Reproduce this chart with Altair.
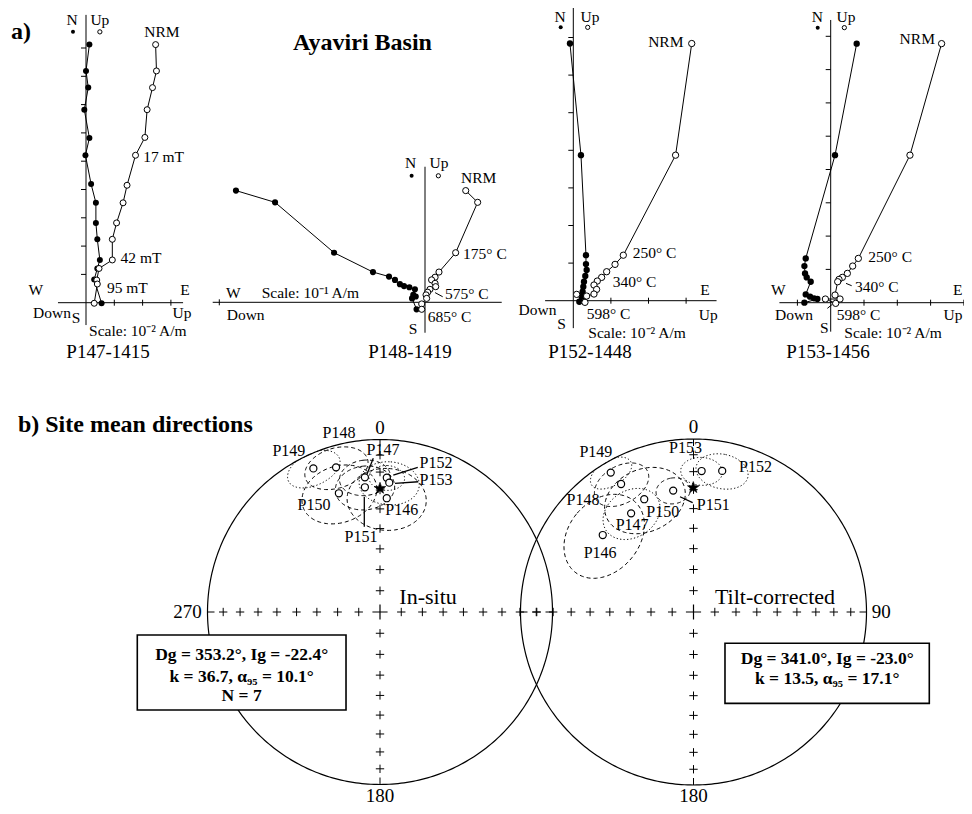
import numpy as np
import pandas as pd
import altair as alt

FONT = "Liberation Serif"
M = 8  # page margin

# ------------------------------------------------------------------
# DATA  (Zijderveld diagrams, values in tick units of each panel)
# ------------------------------------------------------------------
p147_fill_x = [0.12, 0.0, 0.08, -0.06, 0.12, -0.02, 0.18, 0.35, 0.35, 0.40, 0.49, 0.40, 0.29, 0.55]
p147_fill_y = [9.12, 8.19, 7.60, 6.82, 5.82, 5.21, 4.19, 3.53, 2.82, 2.24, 1.51, 1.21, 0.82, -0.02]
p147_open_x = [2.46, 2.49, 2.35, 2.16, 2.08, 1.75, 1.45, 1.31, 1.08, 0.93, 0.93, 0.46, 0.38, 0.40, 0.29]
p147_open_y = [9.12, 8.19, 7.60, 6.82, 5.84, 5.21, 4.15, 3.53, 2.82, 2.24, 1.51, 1.21, 0.80, 0.66, -0.02]

p148_fill_x = [-0.919, -0.729, -0.442, -0.253, -0.175, -0.146, -0.122, -0.102, -0.076, -0.049, -0.057, -0.045, -0.063, -0.041]
p148_fill_y = [0.543, 0.486, 0.241, 0.147, 0.125, 0.109, 0.088, 0.079, 0.073, 0.063, 0.036, 0.028, 0.019, -0.034]
p148_open_x = [0.198, 0.256, 0.149, 0.068, 0.049, 0.032, 0.049, 0.052, 0.024, 0.013, 0.005, 0.008, -0.016, -0.016]
p148_open_y = [0.543, 0.486, 0.241, 0.147, 0.122, 0.109, 0.092, 0.076, 0.063, 0.049, 0.036, 0.019, -0.008, -0.034]

p152_fill_x = [-0.089, 0.204, 0.337, 0.337, 0.355, 0.319, 0.284, 0.266, 0.248, 0.222, 0.160]
p152_fill_y = [6.84, 3.87, 1.21, 0.975, 0.816, 0.656, 0.505, 0.372, 0.239, 0.106, -0.027]
p152_open_x = [3.15, 2.72, 1.33, 1.11, 0.887, 0.754, 0.638, 0.55, 0.62, 0.55, 0.355, 0.089, 0.31]
p152_open_y = [6.84, 3.87, 1.21, 0.966, 0.771, 0.62, 0.523, 0.417, 0.30, 0.177, 0.124, 0.168, -0.044]

p153_fill_x = [0.78, 0.13, -0.75, -0.79, -0.77, -0.72, -0.60, -0.75, -0.62, -0.50, -0.40, -0.79]
p153_fill_y = [7.78, 4.43, 1.33, 1.10, 0.88, 0.76, 0.63, 0.25, 0.18, 0.13, 0.11, 0.0]
p153_open_x = [3.33, 2.38, 0.83, 0.66, 0.50, 0.35, 0.25, 0.21, 0.13, 0.28, -0.16, 0.15]
p153_open_y = [7.78, 4.43, 1.33, 1.10, 0.88, 0.76, 0.70, 0.63, 0.23, 0.11, 0.11, -0.02]

# Site mean directions (declination, inclination, alpha95)
sites = ["P146", "P147", "P148", "P149", "P150", "P151", "P152", "P153"]
insitu_dec = [3.4, 353.6, 343.1, 335.1, 340.9, 353.1, 2.9, 4.1]
insitu_inc = [-34.3, -22.5, -13.4, -9.1, -28.0, -28.0, -23.1, -25.8]
insitu_a95 = [16.5, 10.0, 12.0, 10.0, 15.5, 12.0, 7.0, 12.0]
insitu_style = ["dash", "dash", "dash", "dot", "dash", "dash", "dot", "dot"]
insitu_mean = (0.0, -29.1)

tilt_dec = [310.3, 327.7, 330.5, 329.3, 336.4, 350.5, 11.5, 3.3]
tilt_inc = [-31.8, -33.0, -16.1, -7.0, -29.6, -29.6, -17.9, -19.5]
tilt_a95 = [19.0, 12.5, 11.0, 8.0, 17.0, 7.0, 10.0, 8.0]
tilt_style = ["dash", "dot", "dash", "dot", "dash", "dash", "dot", "dot"]
tilt_mean = (359.9, -28.9)

net_tick_inc = [10, 20, 30, 40, 50, 60, 70, 80]

# ------------------------------------------------------------------
# LAYOUT (page pixels) and annotations
# ------------------------------------------------------------------
PANELS = {
    "P147": dict(ox=86.0, oy=302.7, u=28.3, hx=(-0.99, 3.43), vy=(-0.79, 10.17),
                 hticks=[1, 2, 3], vticks=[1, 2, 3, 4, 5, 6, 7, 8, 9], size=36,
                 leg=(-0.46, 0.49, 9.57),
                 labels=[("N", -0.49, 10.0, "center"), ("Up", 0.49, 10.0, "center"),
                         ("NRM", 2.06, 9.58, "left"), ("17 mT", 2.02, 5.15, "left"),
                         ("42 mT", 1.22, 1.57, "left"), ("95 mT", 0.74, 0.52, "left"),
                         ("W", -1.77, 0.45, "center"), ("E", 3.5, 0.45, "center"),
                         ("Down", -1.87, -0.37, "left"), ("Up", 3.39, -0.37, "center"),
                         ("S", -0.35, -0.55, "center"), ("Scale: 10\u207b\u00b2 A/m", 0.11, -1.0, "left")],
                 name=("P147-1415", 0.78, -1.74), leaders=[]),
    "P148": dict(ox=425.0, oy=302.3, u=205.7, hx=(-1.032, 0.373), vy=(-0.148, 0.659),
                 hticks=[-1], vticks=[], size=38,
                 leg=(-0.065, 0.065, 0.615),
                 labels=[("N", -0.07, 0.679, "center"), ("Up", 0.068, 0.677, "center"),
                         ("NRM", 0.175, 0.604, "left"), ("175\u00b0 C", 0.185, 0.235, "left"),
                         ("575\u00b0 C", 0.097, 0.039, "left"), ("685\u00b0 C", 0.013, -0.070, "left"),
                         ("W", -0.932, 0.047, "center"), ("Scale: 10\u207b\u00b9 A/m", -0.794, 0.047, "left"),
                         ("Down", -0.964, -0.062, "left"), ("S", -0.058, -0.130, "center")],
                 name=("P148-1419", -0.073, -0.241),
                 leaders=[(0.049, 0.047, 0.086, 0.027)]),
    "P152": dict(ox=573.3, oy=300.7, u=37.6, hx=(-0.75, 3.81), vy=(-0.73, 7.86),
                 hticks=[1, 2, 3], vticks=[1, 2, 3, 4, 5, 6, 7], size=40,
                 leg=(-0.335, 0.383, 7.27),
                 labels=[("N", -0.354, 7.54, "center"), ("Up", 0.444, 7.54, "center"),
                         ("NRM", 2.93, 6.89, "right"), ("250\u00b0 C", 1.58, 1.27, "left"),
                         ("340\u00b0 C", 1.05, 0.505, "left"), ("E", 3.50, 0.285, "center"),
                         ("Up", 3.59, -0.38, "center"), ("Down", -0.45, -0.247, "right"),
                         ("598\u00b0 C", 0.356, -0.354, "left"), ("S", -0.31, -0.62, "center"),
                         ("Scale: 10\u207b\u00b2 A/m", 0.40, -0.867, "left")],
                 name=("P152-1448", 0.444, -1.364), leaders=[]),
    "P153": dict(ox=830.7, oy=302.7, u=33.3, hx=(-1.54, 4.0), vy=(-0.87, 8.49),
                 hticks=[-1, 1, 2, 3, 4], vticks=[1, 2, 3, 4, 5, 6, 7, 8], size=40,
                 leg=(-0.39, 0.41, 8.26),
                 labels=[("N", -0.40, 8.57, "center"), ("Up", 0.46, 8.57, "center"),
                         ("NRM", 3.13, 7.91, "right"), ("250\u00b0 C", 1.13, 1.36, "left"),
                         ("340\u00b0 C", 0.73, 0.48, "left"), ("598\u00b0 C", 0.18, -0.37, "left"),
                         ("W", -1.57, 0.38, "center"), ("E", 3.96, 0.38, "right"),
                         ("Down", -1.67, -0.37, "left"), ("Up", 3.96, -0.37, "right"),
                         ("S", -0.19, -0.77, "center"), ("Scale: 10\u207b\u00b2 A/m", 0.41, -0.92, "left")],
                 name=("P153-1456", -0.08, -1.48),
                 leaders=[(0.46, 0.58, 0.63, 0.51), (-0.10, -0.17, 0.06, -0.04)]),
}
PANEL_DATA = {
    "P147": (p147_fill_x, p147_fill_y, p147_open_x, p147_open_y),
    "P148": (p148_fill_x, p148_fill_y, p148_open_x, p148_open_y),
    "P152": (p152_fill_x, p152_fill_y, p152_open_x, p152_open_y),
    "P153": (p153_fill_x, p153_fill_y, p153_open_x, p153_open_y),
}

NETS = {
    "left": dict(cx=380.0, cy=612.0, R=172.5, dec=insitu_dec, inc=insitu_inc, a95=insitu_a95,
                 style=insitu_style, mean=insitu_mean,
                 site_lab={"P149": (-0.528, 0.933), "P148": (-0.238, 1.036), "P147": (0.017, 0.939),
                           "P152": (0.325, 0.862), "P153": (0.325, 0.765), "P150": (-0.383, 0.620),
                           "P146": (0.126, 0.591), "P151": (-0.110, 0.433)},
                 leaders=[(-0.039, 0.891, -0.075, 0.800), (0.219, 0.839, 0.077, 0.794),
                          (0.222, 0.755, 0.087, 0.746), (-0.091, 0.668, -0.091, 0.494)],
                 card=[("0", 0.0, 1.067, "center"), ("180", 0.0, -1.067, "center"),
                       ("270", -1.034, 0.0, "right")],
                 title=("In-situ", 0.112, 0.087),
                 box=(-1.407, -0.197, -0.133, -0.568), box_cx=-0.802,
                 box_lines=[("Dg = 353.2\u00b0, Ig = -22.4\u00b0", -0.252),
                            ("k = 36.7, \u03b1\u2089\u2085 = 10.1\u00b0", -0.374),
                            ("N = 7", -0.489)]),
    "right": dict(cx=693.5, cy=612.0, R=173.0, dec=tilt_dec, inc=tilt_inc, a95=tilt_a95,
                  style=tilt_style, mean=tilt_mean,
                  site_lab={"P149": (-0.564, 0.927), "P153": (-0.046, 0.946), "P152": (0.358, 0.840),
                            "P148": (-0.639, 0.647), "P150": (-0.178, 0.580), "P151": (0.114, 0.618),
                            "P147": (-0.355, 0.503), "P146": (-0.540, 0.339)},
                  leaders=[(-0.078, 0.666, -0.005, 0.632)],
                  card=[("0", 0.0, 1.067, "center"), ("180", 0.0, -1.064, "center"),
                        ("90", 1.030, 0.0, "left")],
                  title=("Tilt-corrected", 0.124, 0.088),
                  box=(0.182, 1.363, -0.181, -0.528), box_cx=0.773,
                  box_lines=[("Dg = 341.0\u00b0, Ig = -23.0\u00b0", -0.272),
                             ("k = 13.5, \u03b1\u2089\u2085 = 17.1\u00b0", -0.389)]),
}

PLUS = "M-1,0L1,0M0,-1L0,1"
STAR = ("M0,-1L0.235,-0.324L0.951,-0.309L0.380,0.124L0.588,0.809L0,0.4"
        "L-0.588,0.809L-0.380,0.124L-0.951,-0.309L-0.235,-0.324Z")


# ------------------------------------------------------------------
# helpers
# ------------------------------------------------------------------
def sc(domain, rng):
    return alt.Scale(domain=domain, range=rng, nice=False, zero=False)


def xy(sx, sy):
    return dict(x=alt.X("x:Q", scale=sx, axis=None), y=alt.Y("y:Q", scale=sy, axis=None))


def seg_layer(rows, sx, sy, width=1.0):
    df = pd.DataFrame(rows, columns=["x", "y", "x2", "y2"])
    return alt.Chart(df).mark_rule(color="black", strokeWidth=width).encode(
        x2="x2:Q", y2="y2:Q", **xy(sx, sy))


def text_layers(rows, sx, sy, size, weight="normal"):
    df = pd.DataFrame(rows, columns=["text", "x", "y", "align"])
    out = []
    for al, g in df.groupby("align"):
        out.append(alt.Chart(g).mark_text(font=FONT, fontSize=size, fontWeight=weight, align=al,
                                          baseline="middle", color="black")
                   .encode(text="text:N", **xy(sx, sy)))
    return out


def eq_area(p):
    theta = np.arccos(np.clip(-p[2], -1.0, 1.0))
    r = np.minimum(np.sqrt(2.0) * np.sin(theta / 2.0), 1.0)
    az = np.arctan2(p[1], p[0])
    return r * np.sin(az), r * np.cos(az)


def unit_vec(dec, inc):
    D, I = np.radians(dec), np.radians(inc)
    return np.array([np.cos(I) * np.cos(D), np.cos(I) * np.sin(D), np.sin(I)])


def small_circle(dec, inc, a95, n=145):
    D, I, a = np.radians(dec), np.radians(inc), np.radians(a95)
    m = unit_vec(dec, inc)
    u = np.array([-np.sin(I) * np.cos(D), -np.sin(I) * np.sin(D), np.cos(I)])
    v = np.array([-np.sin(D), np.cos(D), 0.0])
    t = np.linspace(0, 2 * np.pi, n)
    p = np.cos(a) * m[:, None] + np.sin(a) * (np.cos(t) * u[:, None] + np.sin(t) * v[:, None])
    return eq_area(p)


layers = []

# ------------------------------------------------------------------
# a) Zijderveld diagrams
# ------------------------------------------------------------------
for key, p in PANELS.items():
    sx = sc([0, 1], [p["ox"] - M, p["ox"] + p["u"] - M])
    sy = sc([0, 1], [p["oy"] - M, p["oy"] - p["u"] - M])
    th = 3.0 / p["u"]   # half tick length
    tl = 5.0 / p["u"]
    segs = [(p["hx"][0], 0, p["hx"][1], 0), (0, p["vy"][0], 0, p["vy"][1])]
    segs += [(t, -th, t, th) for t in p["hticks"]]
    segs += [(-tl, t, 0, t) for t in p["vticks"]]
    layers.append(seg_layer(segs, sx, sy, 1.0))
    if p["leaders"]:
        layers.append(seg_layer(p["leaders"], sx, sy, 1.0))

    fx, fy, ox_, oy_ = PANEL_DATA[key]
    fdf = pd.DataFrame({"x": fx, "y": fy, "g": "f", "i": range(len(fx))})
    odf = pd.DataFrame({"x": ox_, "y": oy_, "g": "o", "i": range(len(ox_))})
    ldf = pd.concat([fdf, odf])
    layers.append(alt.Chart(ldf).mark_line(color="black", strokeWidth=1.0)
                  .encode(detail="g:N", order="i:Q", **xy(sx, sy)))
    layers.append(alt.Chart(fdf).mark_circle(color="black", size=p["size"], opacity=1)
                  .encode(**xy(sx, sy)))
    layers.append(alt.Chart(odf).mark_point(shape="circle", filled=True, fill="white", stroke="black",
                                            strokeWidth=1.0, size=p["size"], opacity=1)
                  .encode(**xy(sx, sy)))
    # legend symbols next to N / Up
    lf, lo, ly = p["leg"]
    layers.append(alt.Chart(pd.DataFrame({"x": [lf], "y": [ly]}))
                  .mark_circle(color="black", size=16, opacity=1).encode(**xy(sx, sy)))
    layers.append(alt.Chart(pd.DataFrame({"x": [lo], "y": [ly]}))
                  .mark_point(shape="circle", filled=True, fill="white", stroke="black",
                              strokeWidth=1.0, size=18, opacity=1).encode(**xy(sx, sy)))
    layers += text_layers(p["labels"], sx, sy, 15.5)
    nm = p["name"]
    layers += text_layers([(nm[0], nm[1], nm[2], "center")], sx, sy, 19)
    if key == "P147":
        layers += text_layers([("a)", -2.30, 9.57, "center")], sx, sy, 24, "bold")
    if key == "P148":
        layers += text_layers([("Ayaviri Basin", -0.304, 1.259, "center")], sx, sy, 24, "bold")

# ------------------------------------------------------------------
# b) Equal-area stereonets
# ------------------------------------------------------------------
for key, n in NETS.items():
    R = n["R"]
    sx = sc([-1, 1], [n["cx"] - R - M, n["cx"] + R - M])
    sy = sc([-1, 1], [n["cy"] + R - M, n["cy"] - R - M])

    t = np.linspace(0, 2 * np.pi, 361)
    cdf = pd.DataFrame({"x": np.sin(t), "y": np.cos(t), "i": range(361)})
    layers.append(alt.Chart(cdf).mark_line(color="black", strokeWidth=1.2)
                  .encode(order="i:Q", **xy(sx, sy)))

    rr = [np.sqrt(2) * np.sin(np.radians((90 - i) / 2.0)) for i in net_tick_inc]
    pts = []
    for r in rr:
        pts += [(0, r), (0, -r), (r, 0), (-r, 0)]
    pdf = pd.DataFrame(pts, columns=["x", "y"])
    layers.append(alt.Chart(pdf).mark_point(shape=PLUS, filled=False, stroke="black", strokeWidth=1.0,
                                            size=70, opacity=1).encode(**xy(sx, sy)))
    layers.append(alt.Chart(pd.DataFrame({"x": [0.0], "y": [0.0]}))
                  .mark_point(shape=PLUS, filled=False, stroke="black", strokeWidth=1.2,
                              size=230, opacity=1).encode(**xy(sx, sy)))
    st = 7.0 / R
    layers.append(seg_layer([(-1, 0, -1 + st, 0), (1, 0, 1 - st, 0),
                             (0, 1, 0, 1 - st), (0, -1, 0, -1 + st)], sx, sy, 1.0))

    # confidence ellipses
    rows = []
    for s, d, i, a, sty in zip(sites, n["dec"], n["inc"], n["a95"], n["style"]):
        ex, ey = small_circle(d, i, a)
        for k, (xx, yy) in enumerate(zip(ex, ey)):
            rows.append((s, sty, k, xx, yy))
    edf = pd.DataFrame(rows, columns=["site", "sty", "i", "x", "y"])
    layers.append(alt.Chart(edf[edf.sty == "dash"]).mark_line(color="black", strokeWidth=1.0,
                                                              strokeDash=[4, 3])
                  .encode(detail="site:N", order="i:Q", **xy(sx, sy)))
    layers.append(alt.Chart(edf[edf.sty == "dot"]).mark_line(color="black", strokeWidth=1.0,
                                                             strokeDash=[1.3, 2.2])
                  .encode(detail="site:N", order="i:Q", **xy(sx, sy)))

    # leaders
    layers.append(seg_layer(n["leaders"], sx, sy, 1.3))

    # site means
    mx, my = [], []
    for d, i in zip(n["dec"], n["inc"]):
        a, b = eq_area(unit_vec(d, i)[:, None])
        mx.append(float(a[0]))
        my.append(float(b[0]))
    layers.append(alt.Chart(pd.DataFrame({"x": mx, "y": my, "site": sites}))
                  .mark_point(shape="circle", filled=True, fill="white", stroke="black",
                              strokeWidth=1.2, size=50, opacity=1).encode(**xy(sx, sy)))
    a, b = eq_area(unit_vec(*n["mean"])[:, None])
    layers.append(alt.Chart(pd.DataFrame({"x": [float(a[0])], "y": [float(b[0])]}))
                  .mark_point(shape=STAR, filled=True, fill="black", stroke="black", strokeWidth=0.6,
                              size=150, opacity=1).encode(**xy(sx, sy)))

    # labels
    labs = [(s, v[0], v[1], "center") for s, v in n["site_lab"].items()]
    layers += text_layers(labs, sx, sy, 16)
    layers += text_layers(n["card"], sx, sy, 19)
    tt = n["title"]
    layers += text_layers([(tt[0], tt[1], tt[2], "left")], sx, sy, 22)
    if key == "left":
        layers += text_layers([("b) Site mean directions", -2.099, 1.084, "left")], sx, sy, 24, "bold")

    # statistics box
    bx0, bx1, by0, by1 = n["box"]
    layers.append(alt.Chart(pd.DataFrame({"x": [bx0], "x2": [bx1], "y": [by0], "y2": [by1]}))
                  .mark_rect(fill="white", stroke="black", strokeWidth=1.6, opacity=1)
                  .encode(x2="x2:Q", y2="y2:Q", **xy(sx, sy)))
    bl = [(txt, n["box_cx"], yy, "center") for txt, yy in n["box_lines"]]
    layers += text_layers(bl, sx, sy, 17.5, "bold")

chart = (alt.layer(*layers)
         .resolve_scale(x="independent", y="independent")
         .properties(width=956, height=798, autosize=alt.AutoSizeParams(type="none"),
                     padding=0, background="white")
         .configure_view(strokeWidth=0))

chart.save("out.html", embed_options={"renderer": "svg", "actions": False})
